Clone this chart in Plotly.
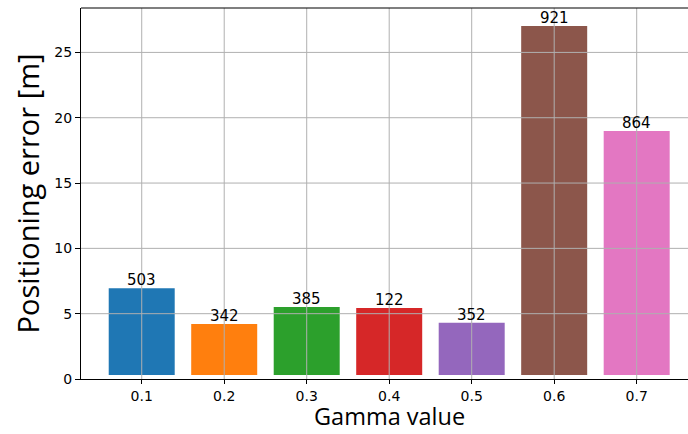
import plotly.graph_objects as go

# Gamma sweep: positioning error per gamma value, with sample counts above bars
gamma = [0.1, 0.2, 0.3, 0.4, 0.5, 0.6, 0.7]
tick_labels = ["0.1", "0.2", "0.3", "0.4", "0.5", "0.6", "0.7"]
error_top = [6.95, 4.21, 5.51, 5.44, 4.31, 27.03, 18.99]
bar_base = 0.3
counts = [503, 342, 385, 122, 352, 921, 864]
colors = ["#1f77b4", "#ff7f0e", "#2ca02c", "#d62728", "#9467bd", "#8c564b", "#e377c2"]
y_ticks = [0, 5, 10, 15, 20, 25]

fig = go.Figure()
fig.add_trace(go.Bar(
    x=gamma,
    y=[t - bar_base for t in error_top],
    base=bar_base,
    width=0.08,
    marker=dict(color=colors, line=dict(width=0)),
    hoverinfo="skip",
))

grid_color = "#b0b0b0"
shapes = []
for xv in gamma:
    shapes.append(dict(type="line", xref="x", yref="paper", x0=xv, x1=xv, y0=0, y1=1,
                       line=dict(color=grid_color, width=1), layer="above"))
for yv in y_ticks[1:]:
    shapes.append(dict(type="line", xref="paper", yref="y", x0=0, x1=1, y0=yv, y1=yv,
                       line=dict(color=grid_color, width=1), layer="above"))
# top frame line
shapes.append(dict(type="line", xref="paper", yref="paper", x0=0, x1=1, y0=1, y1=1,
                   line=dict(color="black", width=1.2), layer="above"))

annotations = []
for xv, top, n in zip(gamma, error_top, counts):
    annotations.append(dict(x=xv, y=top, text=str(n), showarrow=False,
                            xanchor="center", yanchor="bottom", yshift=-3,
                            font=dict(family="DejaVu Sans", size=15, color="black")))

# x-axis title placed below the tick labels
annotations.append(dict(x=0.4, y=0, xref="x", yref="paper", text="Gamma value",
                        showarrow=False, xanchor="center", yanchor="bottom",
                        yshift=-55,
                        font=dict(family="Open Sans", size=23.5, color="black")))

fig.update_layout(
    width=688, height=434,
    margin=dict(l=81, r=0, t=8, b=55),
    paper_bgcolor="white", plot_bgcolor="white",
    showlegend=False,
    shapes=shapes,
    annotations=annotations,
    xaxis=dict(
        range=[0.0264, 0.7622],
        tickmode="array", tickvals=gamma, ticktext=tick_labels,
        showgrid=False, zeroline=False,
        showline=True, linecolor="black", linewidth=1.2,
        ticks="outside", ticklen=4, tickcolor="black", tickwidth=1,
        tickfont=dict(family="DejaVu Sans", size=14, color="black"),
    ),
    yaxis=dict(
        range=[0, 28.4],
        tickmode="array", tickvals=y_ticks,
        showgrid=False, zeroline=False,
        showline=True, linecolor="black", linewidth=1.2,
        ticks="outside", ticklen=5, tickcolor="black", tickwidth=1,
        tickfont=dict(family="DejaVu Sans", size=14, color="black"),
        title=dict(text="Positioning error [m]", standoff=6,
                   font=dict(family="Open Sans", size=29, color="black")),
    ),
)

fig.write_html("out.html")
